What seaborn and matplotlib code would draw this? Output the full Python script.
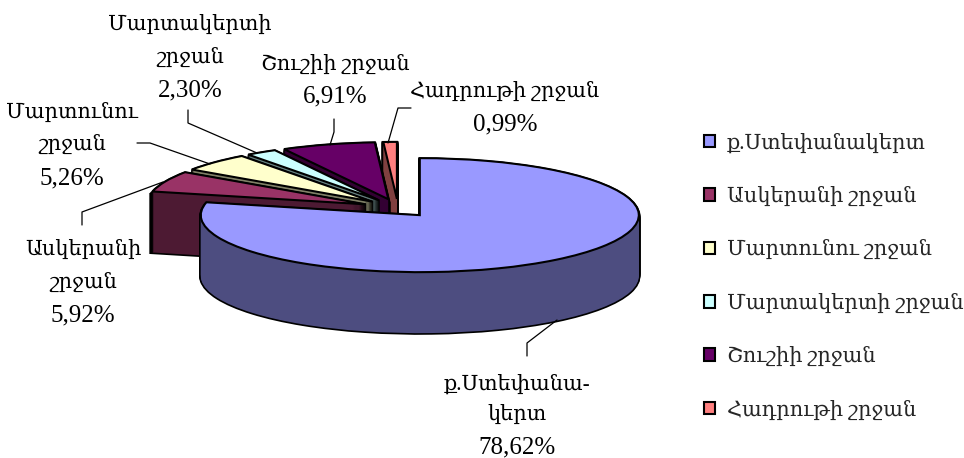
import matplotlib
matplotlib.use("Agg")
import matplotlib.pyplot as plt
from matplotlib.lines import Line2D
from matplotlib.patches import Patch
import seaborn as sns

categories = ["ք.Ստեփանակերտ", "Ասկերանի շրջան", "Մարտունու շրջան",
              "Մարտակերտի շրջան", "Շուշիի շրջան", "Հադրութի շրջան"]
wrapped = [["ք.Ստեփանա-", "կերտ"], ["Ասկերանի", "շրջան"], ["Մարտունու", "շրջան"],
           ["Մարտակերտի", "շրջան"], ["Շուշիի շրջան"], ["Հադրութի շրջան"]]
shares = [78.62, 5.92, 5.26, 2.30, 6.91, 0.99]
top_colors = ["#9999FF", "#993366", "#FFFFCC", "#CCFFFF", "#660066", "#FF8080"]
side_colors = ["#4D4D80", "#4D1A33", "#808066", "#668080", "#330033", "#804040"]
explode = [0.16] * 6

W, H = 964, 458
CX, CY, RX, RY, DEPTH = 398, 208, 219, 57, 61
FONT = ["Liberation Serif", "DejaVu Serif"]

sns.set_theme(style="white")
plt.rcParams["font.family"] = FONT
palette = sns.color_palette(top_colors)
side_palette = sns.color_palette(side_colors)

fig = plt.figure(figsize=(W / 100, H / 100), dpi=100, facecolor="white")
ax = fig.add_axes([0, 0, 1, 1])


def slice_layer(i, drop, face, edge, lw):
    wedges, _ = ax.pie(shares, explode=explode, startangle=90, counterclock=False,
                       center=(0, -drop / RY), radius=1, colors=[face] * 6,
                       wedgeprops=dict(edgecolor=edge, linewidth=lw), normalize=True)
    for j, w in enumerate(wedges):
        if j != i:
            w.remove()


for i in [5, 4, 3, 2, 1, 0]:
    for d in range(DEPTH, 0, -1):
        slice_layer(i, d, "black", "black", 2.4)
    for d in range(DEPTH, 0, -1):
        slice_layer(i, d, side_palette[i], "none", 0)
    slice_layer(i, 0, palette[i], "black", 1.5)

ax.set_aspect("auto")
ax.set_xlim(-CX / RX, (W - CX) / RX)
ax.set_ylim(-(H - CY) / RY, CY / RY)
ax.axis("off")

label_x = [517, 83, 72, 190, 335, 505]
label_y = [[385, 415, 447], [250, 283, 315], [113, 145, 178],
           [25, 58, 90], [65, 96], [92, 124]]
for i, x in enumerate(label_x):
    lines = wrapped[i] + [f"{shares[i]:.2f}".replace(".", ",") + "%"]
    for k, (line, y) in enumerate(zip(lines, label_y[i])):
        is_pct = k == len(lines) - 1
        fig.text(x / W, 1 - y / H, line, ha="center", va="center",
                 fontsize=18 if is_pct else 15, color="black")

leaders = [
    [(557, 320), (527, 343), (527, 356)],
    [(163, 182), (82, 212), (82, 225)],
    [(210, 164), (150, 143), (137, 143)],
    [(257, 153), (188, 123), (188, 110)],
    [(330, 145), (334, 132), (334, 119)],
    [(388, 143), (398, 108), (411, 108)],
]
for pts in leaders:
    fig.add_artist(Line2D([p[0] / W for p in pts], [1 - p[1] / H for p in pts],
                          color="black", lw=0.9))

handles = [Patch(facecolor=c, edgecolor="black", linewidth=1.5) for c in palette]
fig.legend(handles, categories, loc="upper left", bbox_to_anchor=(704 / W, 1 - 133 / H),
           frameon=False, fontsize=15, handlelength=0.55, handleheight=0.55,
           handletextpad=0.55, labelspacing=1.6, borderpad=0, borderaxespad=0)

fig.savefig("out.png", dpi=100, facecolor="white")
